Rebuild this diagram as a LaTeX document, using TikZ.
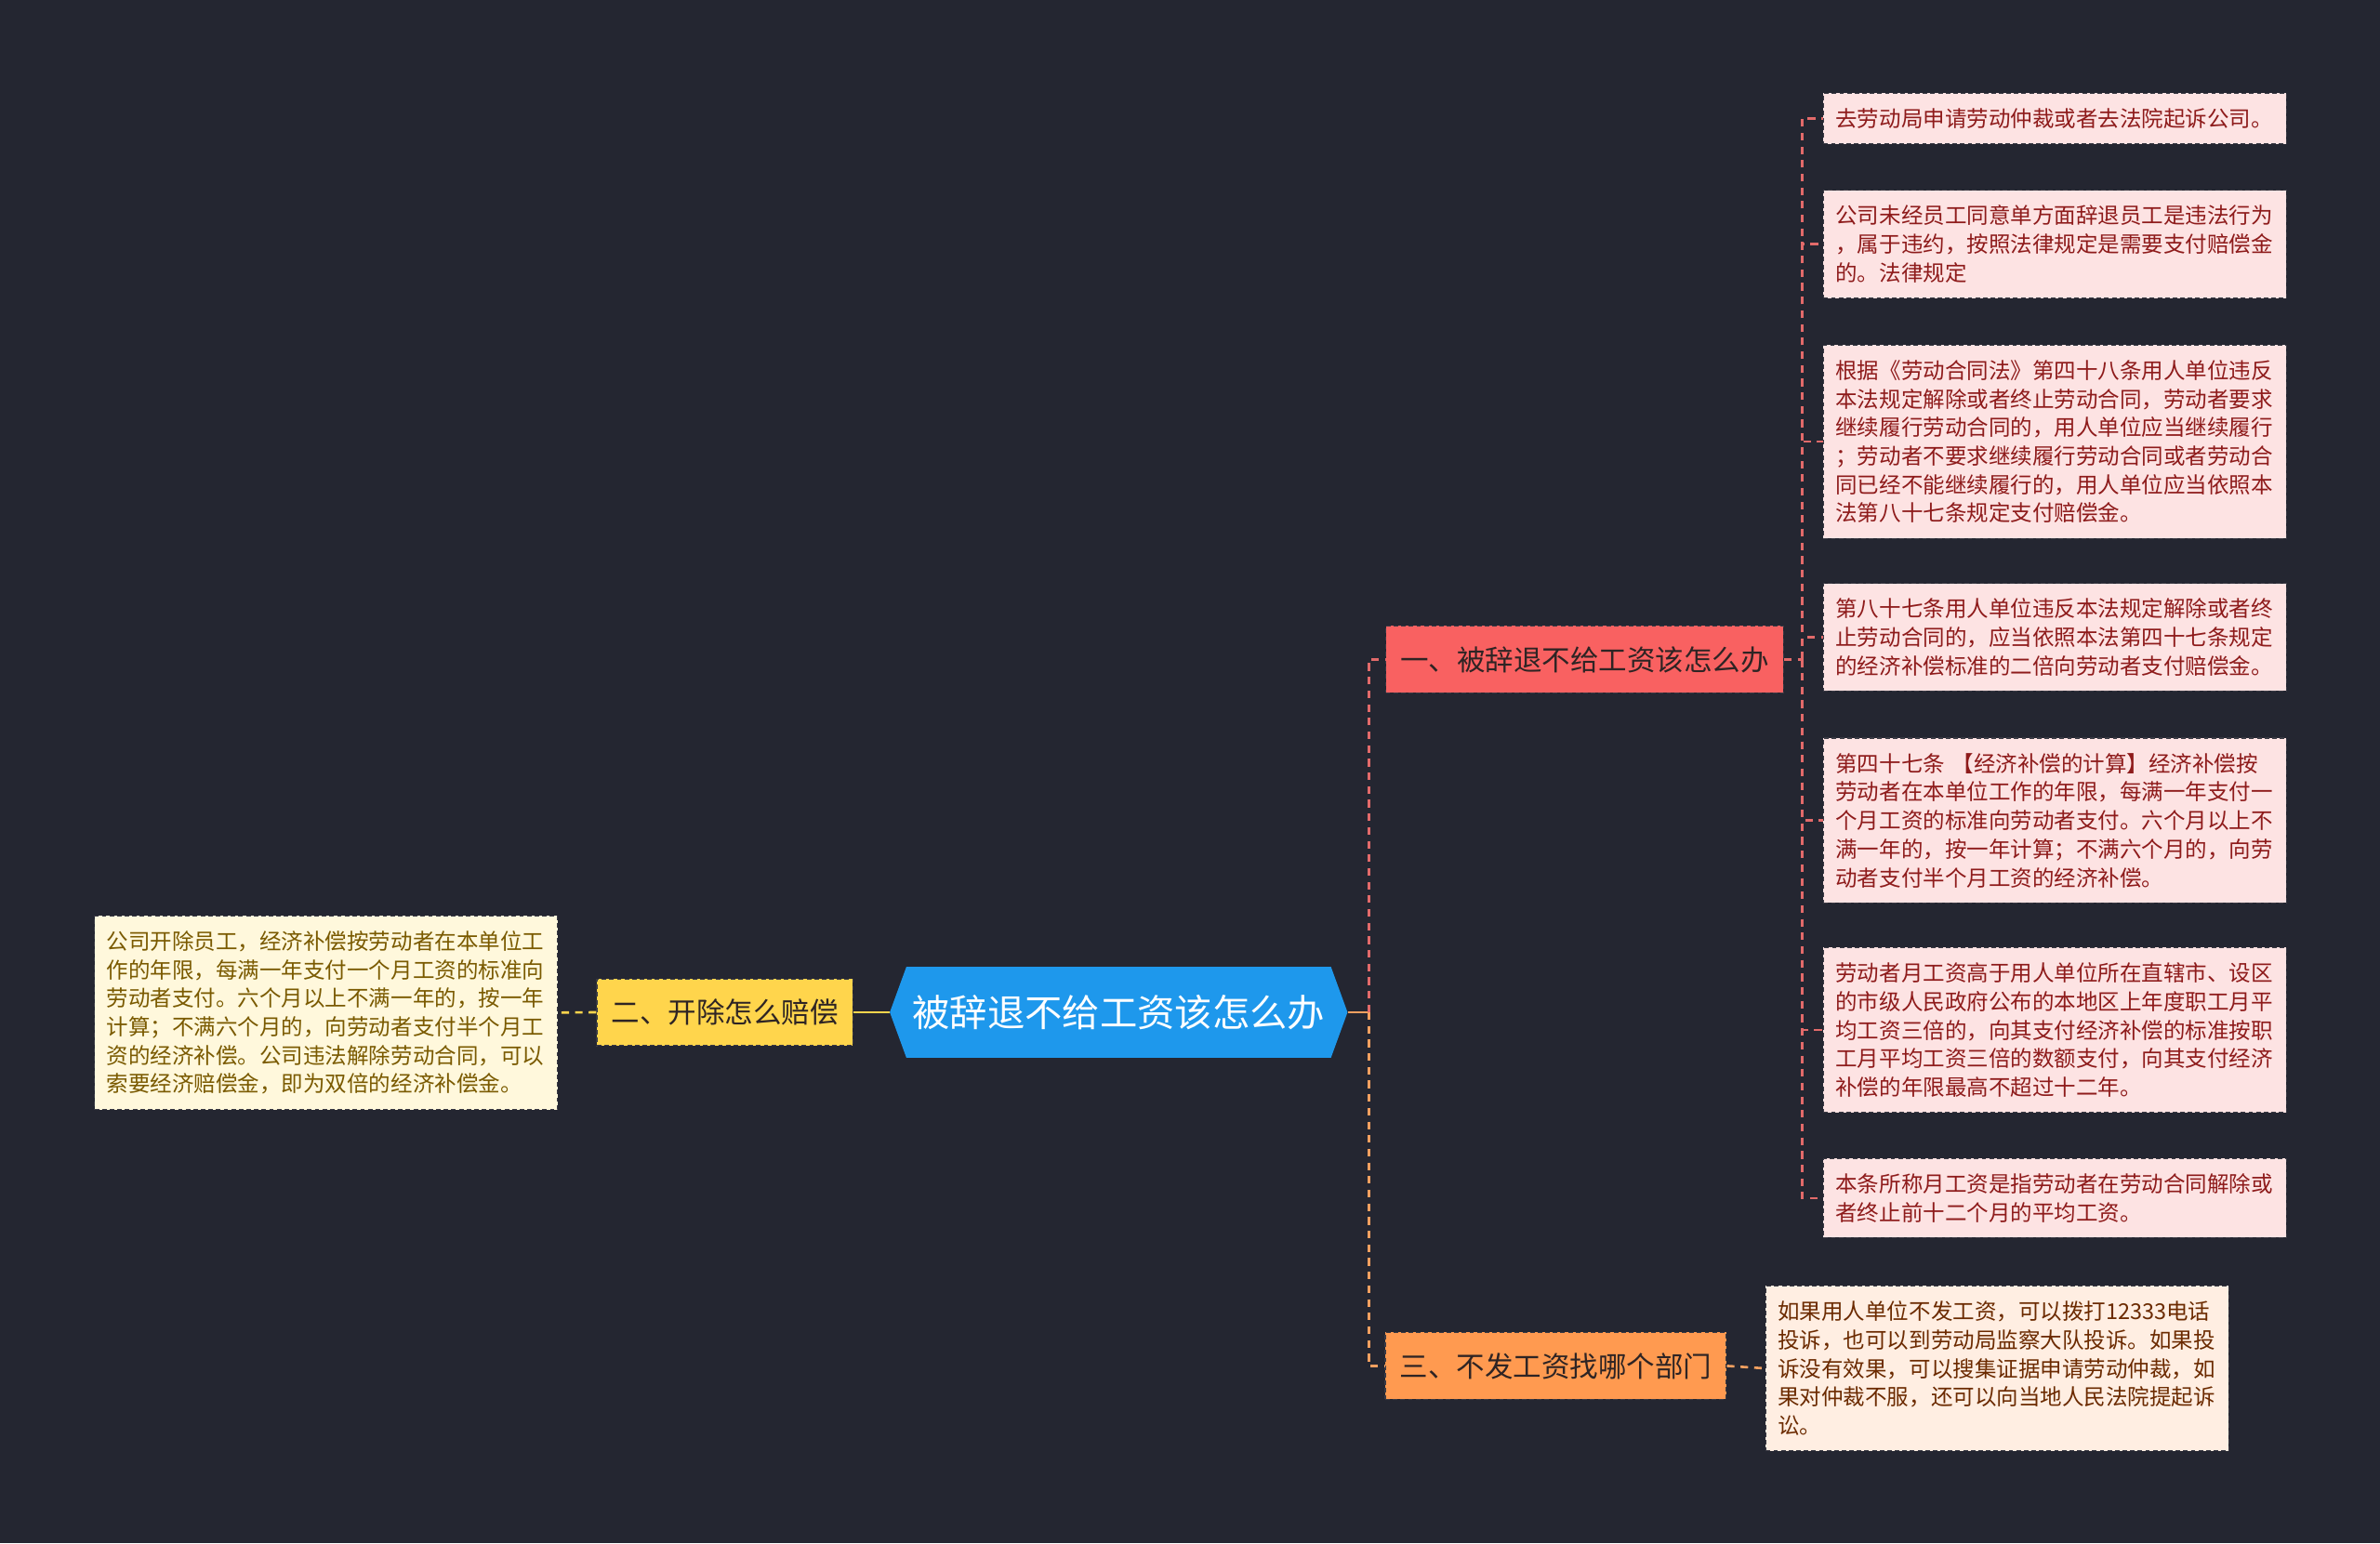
\documentclass[tikz,border=0pt]{standalone}
\usepackage{fontspec}
\setmainfont{Noto Sans CJK SC}
\usepackage{xcolor}
\usepackage{tikz}
\usetikzlibrary{positioning,shapes.symbols}
\definecolor{bgDark}{HTML}{242631}
\definecolor{rootBlue}{HTML}{1E98EC}
\definecolor{branchRed}{HTML}{F96161}
\definecolor{branchYellow}{HTML}{FFD54C}
\definecolor{branchOrange}{HTML}{FF9A50}
\definecolor{noteRed}{HTML}{FDE3E3}
\definecolor{noteCream}{HTML}{FFF8DC}
\definecolor{notePeach}{HTML}{FFEEE2}
\definecolor{txtRed}{HTML}{8E1B1B}
\definecolor{txtOlive}{HTML}{7A5A00}
\definecolor{txtBrown}{HTML}{6B2A00}
\definecolor{txtDark}{HTML}{2E2424}
\definecolor{edgeGray}{HTML}{3A3A44}
\definecolor{linkRed}{HTML}{E26A6A}
\definecolor{linkOrange}{HTML}{F5A060}

\begin{document}
\begin{tikzpicture}[
  x=1pt, y=-1pt,
  rootnode/.style={signal, signal to=west and east, signal pointer angle=140,
    fill=rootBlue, text=white, font=\fontsize{24.7}{28}\selectfont,
    minimum width=298pt, minimum height=60pt, inner xsep=4pt},
  branchbox/.style={rectangle, fill=#1, draw=edgeGray, dash pattern=on 3pt off 2pt,
    line width=0.7pt, text=txtDark, font=\fontsize{18.7}{22}\selectfont,
    minimum height=44pt, inner xsep=9.5pt},
  notebox/.style={rectangle, fill=#1, draw=edgeGray, dash pattern=on 3pt off 2pt,
    line width=0.7pt, inner xsep=8pt, inner ysep=10pt, text width=289pt,
    align=left, font=\fontsize{14.4}{18.8}\selectfont},
  linkdash/.style={draw=#1, line width=1.6pt, dash pattern=on 5pt off 4pt},
]
\fill[bgDark] (0,0) rectangle (1568,1017);
\useasboundingbox (0,0) rectangle (1568,1017);

% ======= Root =======
\node[rootnode] (root) at (737,667) {被辞退不给工资该怎么办};

% ======= Left branch =======
\node[branchbox=branchYellow] (yellow) at (477.5,667) {二、开除怎么赔偿};
\node[notebox=noteCream, text=txtOlive, anchor=north west] (leftnote) at (62,603)
  {公司开除员工，经济补偿按劳动者在本单位工\\作的年限，每满一年支付一个月工资的标准向\\劳动者支付。六个月以上不满一年的，按一年\\计算；不满六个月的，向劳动者支付半个月工\\资的经济补偿。公司违法解除劳动合同，可以\\索要经济赔偿金，即为双倍的经济补偿金。};

\draw[branchYellow, line width=1.8pt] (root.west) -- (yellow.east);
\draw[linkdash=branchYellow] (yellow.west) -- (leftnote.east);

% ======= Right branches =======
\node[branchbox=branchRed] (red) at (1044,434.5) {一、被辞退不给工资该怎么办};
\node[branchbox=branchOrange] (orange) at (1025,900) {三、不发工资找哪个部门};

\draw[linkOrange, line width=1.8pt] (root.east) -- ++(14,0) coordinate (rootjoint);
\draw[linkdash=linkRed] (rootjoint) |- (red.west);
\draw[linkdash=linkOrange] (rootjoint) |- (orange.west);

% Red notes
\node[notebox=noteRed, text=txtRed, anchor=north west] (n1) at (1201,61)
  {去劳动局申请劳动仲裁或者去法院起诉公司。};
\node[notebox=noteRed, text=txtRed, anchor=north west] (n2) at (1201,125)
  {公司未经员工同意单方面辞退员工是违法行为\\，属于违约，按照法律规定是需要支付赔偿金\\的。法律规定};
\node[notebox=noteRed, text=txtRed, anchor=north west] (n3) at (1201,227)
  {根据《劳动合同法》第四十八条用人单位违反\\本法规定解除或者终止劳动合同，劳动者要求\\继续履行劳动合同的，用人单位应当继续履行\\；劳动者不要求继续履行劳动合同或者劳动合\\同已经不能继续履行的，用人单位应当依照本\\法第八十七条规定支付赔偿金。};
\node[notebox=noteRed, text=txtRed, anchor=north west] (n4) at (1201,384)
  {第八十七条用人单位违反本法规定解除或者终\\止劳动合同的，应当依照本法第四十七条规定\\的经济补偿标准的二倍向劳动者支付赔偿金。};
\node[notebox=noteRed, text=txtRed, anchor=north west] (n5) at (1201,486)
  {第四十七条 【经济补偿的计算】经济补偿按\\劳动者在本单位工作的年限，每满一年支付一\\个月工资的标准向劳动者支付。六个月以上不\\满一年的，按一年计算；不满六个月的，向劳\\动者支付半个月工资的经济补偿。};
\node[notebox=noteRed, text=txtRed, anchor=north west] (n6) at (1201,624)
  {劳动者月工资高于用人单位所在直辖市、设区\\的市级人民政府公布的本地区上年度职工月平\\均工资三倍的，向其支付经济补偿的标准按职\\工月平均工资三倍的数额支付，向其支付经济\\补偿的年限最高不超过十二年。};
\node[notebox=noteRed, text=txtRed, anchor=north west] (n7) at (1201,763)
  {本条所称月工资是指劳动者在劳动合同解除或\\者终止前十二个月的平均工资。};

\draw[linkdash=linkRed] (red.east) -- ++(12,0) coordinate (redjoint);
\foreach \n in {n1,n2,n3,n4,n5,n6,n7}
  \draw[linkdash=linkRed] (redjoint) |- (\n.west);

% Orange note
\node[notebox=notePeach, text=txtBrown, anchor=north west] (orangenote) at (1163,847)
  {如果用人单位不发工资，可以拨打12333电话\\投诉，也可以到劳动局监察大队投诉。如果投\\诉没有效果，可以搜集证据申请劳动仲裁，如\\果对仲裁不服，还可以向当地人民法院提起诉\\讼。};
\draw[linkdash=linkOrange] (orange.east) -- (orangenote.west);

\end{tikzpicture}
\end{document}
